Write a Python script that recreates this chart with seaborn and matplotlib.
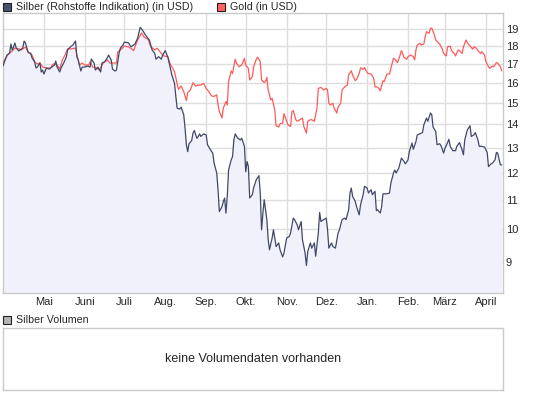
import pandas as pd
import matplotlib
matplotlib.use("Agg")
import matplotlib.pyplot as plt
from matplotlib.patches import Rectangle
from matplotlib.ticker import NullLocator
import seaborn as sns

# series start date (day offsets from start)
start = pd.Timestamp("2008-03-31")

silver_days = [
    0, 3, 5, 6, 7, 8, 9, 10, 12, 13,
    15, 16, 17, 19, 20, 21, 22, 24, 25, 26,
    28, 29, 30, 31, 33, 35, 37, 39, 40, 41,
    43, 44, 46, 48, 49, 51, 53, 55, 56, 57,
    59, 60, 62, 64, 66, 67, 69, 70, 72, 74,
    75, 77, 79, 80, 82, 83, 85, 86, 88, 89,
    91, 92, 95, 97, 100, 102, 104, 106, 108, 110,
    111, 113, 115, 116, 118, 120, 121, 123, 125, 127,
    128, 130, 131, 132, 134, 135, 137, 138, 139, 140,
    141, 143, 144, 145, 147, 148, 149, 150, 152, 154,
    155, 157, 159, 160, 162, 163, 164, 166, 167, 168,
    169, 170, 171, 173, 174, 175, 176, 178, 180, 181,
    183, 184, 185, 186, 187, 189, 190, 192, 194, 195,
    196, 197, 198, 200, 201, 202, 204, 205, 207, 209,
    210, 212, 213, 215, 217, 218, 220, 221, 223, 224,
    226, 227, 229, 230, 231, 233, 234, 236, 237, 239,
    240, 241, 243, 245, 246, 247, 249, 250, 252, 254,
    255, 257, 259, 260, 262, 263, 264, 265, 267, 268,
    270, 271, 273, 274, 276, 277, 279, 280, 282, 283,
    284, 286, 287, 288, 291, 293, 294, 296, 297, 298,
    300, 302, 304, 305, 307, 308, 310, 311, 313, 314,
    316, 318, 319, 321, 322, 324, 325, 326, 328, 329,
    331, 332, 334, 335, 337, 338, 339, 341, 343, 344,
    346, 348, 349, 350, 352, 354, 355, 357, 358, 360,
    361, 363, 365, 367, 368, 370, 371, 373, 374, 375,
    377, 378,
]
silver_vals = [
    16.88, 17.48, 17.59, 18.11, 17.77, 17.94, 18.17, 17.88, 17.71, 17.77,
    17.88, 18.28, 18.17, 17.65, 17.59, 17.59, 17.32, 17.10, 16.77, 16.82,
    17.04, 16.56, 16.66, 16.45, 16.77, 16.71, 16.82, 16.93, 17.15, 16.82,
    16.56, 16.77, 17.04, 17.37, 17.77, 17.94, 18.05, 18.28, 17.37, 17.21,
    16.61, 16.82, 16.82, 16.88, 16.82, 17.26, 17.04, 16.66, 16.82, 16.56,
    17.04, 17.10, 17.32, 17.48, 17.21, 16.71, 16.61, 16.66, 17.59, 17.88,
    18.05, 18.22, 18.18, 17.95, 18.11, 18.44, 19.10, 18.90, 18.64, 18.44,
    18.34, 17.77, 17.58, 17.25, 17.39, 17.25, 17.48, 17.73, 17.35, 16.70,
    16.40, 15.97, 15.31, 14.75, 14.70, 14.80, 14.44, 13.83, 13.12, 12.83,
    13.16, 13.29, 13.61, 13.73, 13.39, 13.47, 13.58, 13.47, 13.58, 13.54,
    13.12, 12.93, 12.77, 12.37, 11.98, 11.36, 10.59, 10.76, 10.94, 11.06,
    10.54, 11.12, 12.10, 12.50, 12.63, 13.32, 13.58, 13.39, 13.32, 13.39,
    13.05, 12.03, 12.43, 12.23, 11.06, 11.18, 11.43, 11.73, 11.88, 11.24,
    9.99, 10.54, 11.00, 10.32, 9.68, 9.37, 9.73, 9.99, 9.47, 9.58,
    9.37, 9.16, 9.28, 9.73, 9.78, 9.89, 10.37, 10.32, 10.15, 9.99,
    10.26, 9.68, 9.27, 8.91, 9.32, 9.58, 9.42, 9.58, 9.18, 9.88,
    10.56, 10.26, 10.32, 10.37, 9.99, 9.42, 9.58, 9.47, 9.42, 9.89,
    9.99, 10.32, 10.37, 10.32, 10.65, 11.24, 11.42, 11.12, 10.94, 10.76,
    10.48, 10.82, 11.18, 11.48, 11.42, 11.24, 11.36, 11.18, 11.30, 10.62,
    10.65, 10.54, 10.76, 11.21, 11.21, 11.24, 11.60, 11.98, 12.10, 11.98,
    12.17, 12.57, 12.43, 12.34, 12.50, 12.83, 13.19, 12.93, 13.25, 13.54,
    13.58, 13.64, 13.98, 14.29, 14.14, 14.52, 14.44, 13.88, 13.69, 13.12,
    13.16, 13.08, 12.77, 12.97, 13.21, 13.35, 13.05, 12.87, 12.87, 13.05,
    13.21, 12.90, 12.70, 13.32, 13.76, 13.94, 13.47, 13.54, 13.64, 13.32,
    13.05, 13.05, 13.02, 12.80, 12.23, 12.34, 12.37, 12.50, 12.80, 12.77,
    12.30, 12.30,
]

gold_days = [
    0, 3, 5, 7, 9, 12, 14, 17, 19, 22,
    24, 26, 28, 30, 33, 36, 38, 41, 43, 45,
    47, 49, 52, 55, 56, 58, 60, 62, 65, 66,
    68, 71, 73, 76, 79, 81, 84, 86, 87, 90,
    92, 95, 97, 99, 102, 105, 107, 110, 112, 115,
    117, 120, 122, 125, 127, 128, 130, 132, 133, 135,
    137, 139, 140, 142, 144, 146, 148, 150, 152, 154,
    156, 158, 160, 162, 163, 164, 166, 167, 169, 170,
    171, 173, 174, 176, 177, 179, 181, 183, 184, 186,
    187, 189, 190, 192, 193, 195, 196, 198, 199, 200,
    201, 203, 204, 206, 207, 209, 210, 212, 213, 215,
    216, 218, 219, 220, 222, 223, 225, 227, 228, 230,
    231, 233, 234, 236, 238, 239, 241, 243, 245, 246,
    247, 248, 250, 251, 253, 254, 256, 257, 259, 261,
    262, 264, 265, 267, 268, 270, 271, 273, 274, 276,
    277, 279, 281, 282, 283, 285, 286, 288, 289, 291,
    293, 294, 296, 297, 299, 301, 302, 304, 306, 307,
    309, 311, 312, 313, 314, 316, 317, 319, 320, 321,
    323, 324, 325, 327, 328, 330, 331, 333, 334, 336,
    337, 339, 340, 342, 343, 345, 346, 348, 349, 351,
    352, 354, 356, 357, 359, 360, 362, 363, 365, 366,
    368, 369, 371, 372, 374, 375, 377, 378,
]
gold_vals = [
    17.04, 17.43, 17.59, 17.71, 17.88, 17.83, 17.77, 17.94, 17.65, 17.48,
    17.10, 16.99, 17.04, 16.82, 16.77, 16.77, 16.99, 16.93, 16.71, 17.21,
    17.48, 17.83, 17.83, 17.88, 17.48, 16.93, 17.04, 16.93, 16.93, 17.10,
    16.82, 16.77, 16.66, 17.04, 17.21, 17.04, 17.04, 17.04, 17.65, 17.83,
    17.99, 17.95, 17.86, 17.73, 18.34, 18.76, 18.51, 18.38, 17.95, 17.77,
    17.86, 17.57, 17.43, 17.39, 16.93, 16.84, 16.57, 15.97, 15.66, 15.83,
    15.55, 15.11, 15.50, 15.63, 16.00, 15.83, 15.88, 15.88, 15.97, 15.71,
    15.55, 15.34, 15.31, 15.39, 14.90, 14.59, 14.29, 14.75, 15.06, 14.90,
    16.06, 16.62, 16.48, 17.25, 17.03, 16.84, 16.93, 17.30, 16.93, 16.75,
    16.14, 16.31, 16.84, 17.25, 17.36, 17.12, 16.14, 16.00, 16.06, 16.28,
    15.63, 15.14, 15.22, 14.67, 13.94, 13.88, 14.03, 14.06, 14.49, 14.14,
    13.98, 13.91, 14.59, 14.63, 14.21, 14.14, 14.21, 14.29, 13.91, 13.61,
    14.14, 14.21, 14.21, 14.14, 14.75, 15.71, 15.76, 15.63, 15.71, 15.63,
    14.98, 14.90, 14.98, 14.75, 14.52, 14.80, 14.98, 15.63, 15.79, 15.88,
    16.40, 16.62, 16.40, 16.10, 16.17, 16.48, 16.78, 16.70, 16.80, 16.52,
    16.48, 16.45, 16.23, 15.79, 15.79, 15.71, 15.59, 16.10, 16.06, 16.45,
    16.45, 16.75, 17.30, 17.25, 17.06, 17.48, 17.73, 17.35, 17.25, 17.39,
    17.48, 17.39, 17.21, 17.77, 18.05, 18.15, 18.05, 18.11, 18.54, 18.84,
    18.74, 19.05, 19.05, 18.64, 18.34, 18.18, 18.11, 17.81, 17.57, 17.43,
    17.95, 17.99, 17.73, 17.57, 17.43, 17.77, 17.73, 17.57, 17.95, 18.34,
    18.18, 17.99, 17.81, 17.95, 17.86, 17.73, 17.57, 17.67, 17.48, 17.12,
    16.84, 16.75, 16.88, 16.84, 17.06, 17.03, 16.84, 16.62,
]

month_labels = ["Mai", "Juni", "Juli", "Aug.", "Sep.", "Okt.", "Nov.",
                "Dez.", "Jan.", "Feb.", "März", "April"]
month_starts = pd.date_range("2008-05-01", periods=12, freq="MS")
y_ticks = [9, 10, 11, 12, 13, 14, 15, 16, 17, 18, 19]

silver_name = "Silber (Rohstoffe Indikation) (in USD)"
gold_name = "Gold (in USD)"

SILVER = "#414968"
GOLD = "#ff5a5a"
FILL = "#f1f1fb"
GRID = "#dedede"
BORDER = "#cacaca"

sns.set_style("white")
plt.rcParams["font.family"] = ["Liberation Sans", "DejaVu Sans"]
plt.rcParams["font.size"] = 8

silver = pd.DataFrame({"date": start + pd.to_timedelta(silver_days, unit="D"),
                       "value": silver_vals})
gold = pd.DataFrame({"date": start + pd.to_timedelta(gold_days, unit="D"),
                     "value": gold_vals})

W, H = 545, 395
fig = plt.figure(figsize=(W / 100, H / 100), dpi=100)


def box(x0, y0, x1, y1):
    # pixel box -> figure fraction
    return [x0 / W, 1 - y1 / H, (x1 - x0) / W, (y1 - y0) / H]


ax = fig.add_axes(box(3, 13, 503, 293))
ymin, ymax = 8.16, 20.0
ax.set_yscale("log")
ax.fill_between(silver["date"], silver["value"], ymin, color=FILL, lw=0, zorder=1)
sns.lineplot(data=gold, x="date", y="value", ax=ax, color=GOLD, lw=0.9, zorder=3)
sns.lineplot(data=silver, x="date", y="value", ax=ax, color=SILVER, lw=0.9, zorder=4)

ax.set_xlim(start, start + pd.Timedelta(days=379))
ax.set_ylim(ymin, ymax)
ax.set_xticks(month_starts)
ax.set_xticklabels(month_labels)
ax.yaxis.tick_right()
ax.set_yticks(y_ticks)
ax.set_yticklabels([str(t) for t in y_ticks])
ax.yaxis.set_minor_locator(NullLocator())
ax.tick_params(axis="both", length=0, labelsize=8)
ax.tick_params(axis="x", pad=3)
ax.tick_params(axis="y", pad=2)
ax.set_xlabel("")
ax.set_ylabel("")
ax.grid(True, color=GRID, lw=1, zorder=0)
ax.set_axisbelow(True)
for s in ax.spines.values():
    s.set_color(BORDER)
    s.set_linewidth(1)

# legend squares + labels
def legend_item(x, y, color, label):
    fig.add_artist(Rectangle((x / W, 1 - (y + 8) / H), 8 / W, 8 / H,
                             transform=fig.transFigure, facecolor=color,
                             edgecolor="#222222", lw=0.8))
    fig.text((x + 13) / W, 1 - (y + 4) / H, label, ha="left", va="center",
             fontsize=7.7)

legend_item(3, 3, "#4a5272", silver_name)
legend_item(217, 3, "#ff6464", gold_name)
legend_item(3, 316, "#b4b4b4", "Silber Volumen")

# volume panel
vax = fig.add_axes(box(3, 328, 503, 390))
vax.set_xticks([])
vax.set_yticks([])
for s in vax.spines.values():
    s.set_color(BORDER)
    s.set_linewidth(1)
vax.text(0.5, 0.5, "keine Volumendaten vorhanden", ha="center", va="center",
         fontsize=9, transform=vax.transAxes)

fig.savefig("out.png", dpi=100)
plt.close(fig)
